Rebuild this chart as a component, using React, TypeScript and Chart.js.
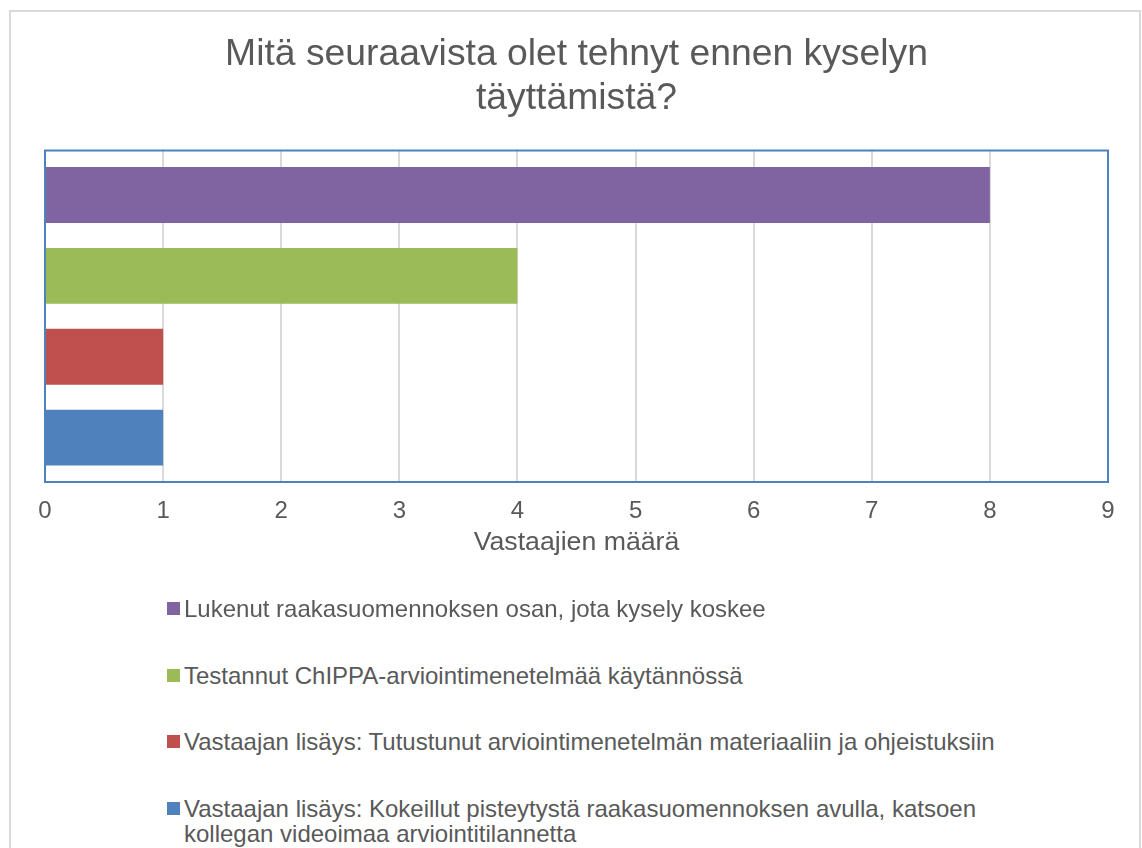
import React, { useEffect, useRef } from "react";
import { Chart, registerables } from "chart.js";

Chart.register(...registerables);

const titleLines = ["Mitä seuraavista olet tehnyt ennen kyselyn", "täyttämistä?"];
const categories = [""];
const seriesLabels = [
  "Lukenut raakasuomennoksen osan, jota kysely koskee",
  "Testannut ChIPPA-arviointimenetelmää käytännössä",
  "Vastaajan lisäys: Tutustunut arviointimenetelmän materiaaliin ja ohjeistuksiin",
  "Vastaajan lisäys: Kokeillut pisteytystä raakasuomennoksen avulla, katsoen kollegan videoimaa arviointitilannetta",
];
const seriesValues = [8, 4, 1, 1];
const seriesColors = ["#8064A2", "#9BBB59", "#C0504D", "#4F81BD"];
const xMin = 0;
const xMax = 9;
const xStep = 1;
const xAxisTitle = "Vastaajien määrä";

const FONT = "'Liberation Sans', Arial, sans-serif";
const TEXT = "#595959";

const plotBorder = {
  id: "plotBorder",
  afterDatasetsDraw(chart: any) {
    const { ctx, chartArea } = chart;
    const { left, top, right, bottom } = chartArea;
    ctx.save();
    ctx.strokeStyle = "#4F81BD";
    ctx.lineWidth = 2;
    ctx.strokeRect(left, top, right - left, bottom - top);
    ctx.restore();
  },
};

export default function App() {
  const ref = useRef<HTMLCanvasElement | null>(null);

  useEffect(() => {
    if (!ref.current) return;
    const chart = new Chart(ref.current, {
      type: "bar",
      data: {
        labels: categories,
        datasets: seriesLabels.map((label, i) => ({
          label,
          data: [seriesValues[i]],
          backgroundColor: seriesColors[i],
          borderWidth: 0,
          categoryPercentage: 0.976,
          barPercentage: 0.691,
        })),
      },
      options: {
        indexAxis: "y",
        animation: false,
        responsive: false,
        maintainAspectRatio: false,
        layout: { padding: { left: 45, right: 34, top: 0, bottom: 18 } },
        plugins: {
          legend: { display: false },
          tooltip: { enabled: false },
          title: {
            display: true,
            text: titleLines,
            color: TEXT,
            font: { family: FONT, size: 37.3, weight: "normal", lineHeight: 1.2 },
            padding: { top: 32, bottom: 29 },
          },
        },
        scales: {
          x: {
            min: xMin,
            max: xMax,
            ticks: {
              stepSize: xStep,
              color: TEXT,
              font: { family: FONT, size: 24 },
              padding: 15,
            },
            grid: { color: "#D9D9D9", lineWidth: 2, drawTicks: false },
            border: { display: false },
            title: {
              display: true,
              text: xAxisTitle,
              color: TEXT,
              font: { family: FONT, size: 26.7, lineHeight: 1.2 },
              padding: { top: 0, bottom: 23 },
            },
            afterFit: (scale: any) => {
              scale.height = 100;
            },
          },
          y: {
            ticks: { display: false },
            grid: { display: false },
            border: { display: false },
            afterFit: (scale: any) => {
              scale.width = 0;
            },
          },
        },
      },
      plugins: [plotBorder],
    } as any);
    return () => chart.destroy();
  }, []);

  const itemTops = [596, 662.7, 729.3, 796];

  return (
    <div>
      <div
        style={{
          position: "absolute",
          left: 9,
          top: 10,
          width: 1132,
          height: 838,
          boxSizing: "border-box",
          border: "2px solid #D9D9D9",
          borderBottom: "none",
        }}
      />
      <canvas
        ref={ref}
        width={1142}
        height={600}
        style={{ position: "absolute", left: 0, top: 0, width: 1142, height: 600 }}
      />
      {seriesLabels.map((label, i) => (
        <div key={i}>
          <div
            style={{
              position: "absolute",
              left: 167,
              top: itemTops[i] + 6,
              width: 13,
              height: 13,
              background: seriesColors[i],
            }}
          />
          <div
            style={{
              position: "absolute",
              left: 184,
              top: itemTops[i],
              width: 880,
              fontFamily: FONT,
              fontSize: 24,
              lineHeight: "25px",
              color: TEXT,
            }}
          >
            {label}
          </div>
        </div>
      ))}
    </div>
  );
}
